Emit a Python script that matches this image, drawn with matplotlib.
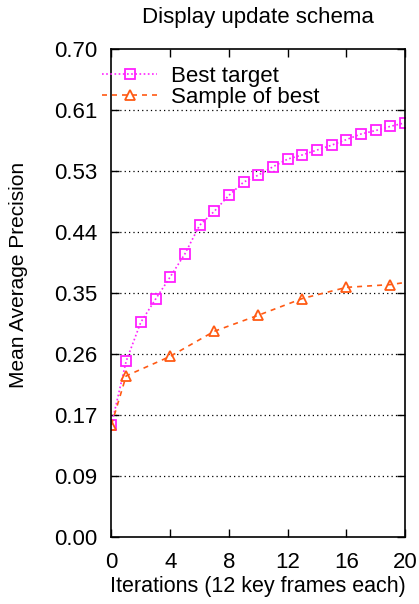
import numpy as np
import matplotlib
matplotlib.use("Agg")
import matplotlib.pyplot as plt

plt.rcParams['font.family'] = ['Liberation Sans', 'DejaVu Sans']

MAGENTA = '#ff20ff'
ORANGE = '#ff5a14'

# data
best_x = list(range(0, 21))
best_y = [0.161, 0.252, 0.308, 0.341, 0.373, 0.406, 0.447, 0.467, 0.490, 0.509,
          0.519, 0.531, 0.542, 0.548, 0.555, 0.562, 0.570, 0.578, 0.583, 0.589, 0.594]

sample_x = [0, 1, 4, 7, 10, 13, 16, 19, 20]
sample_y = [0.161, 0.231, 0.259, 0.295, 0.318, 0.342, 0.358, 0.362, 0.365]

x_ticks = [0, 4, 8, 12, 16, 20]
y_ticks = [0.0, 0.0875, 0.175, 0.2625, 0.35, 0.4375, 0.525, 0.6125, 0.70]
y_labels = ['0.00', '0.09', '0.17', '0.26', '0.35', '0.44', '0.53', '0.61', '0.70']

fig = plt.figure(figsize=(4.19, 6.04), dpi=100)
ax = fig.add_axes([0.266, 0.111, 0.701, 0.808])

ax.plot(best_x, best_y, color=MAGENTA, linestyle=(0, (1, 1.5)), linewidth=1.2,
        marker='s', markersize=7, markerfacecolor='none', markeredgewidth=1.3,
        label='Best target')
ax.plot(sample_x, sample_y, color=ORANGE, linestyle=(0, (3, 3)), linewidth=1.2,
        marker='^', markersize=7, markerfacecolor='none', markeredgewidth=1.3,
        markevery=list(range(len(sample_x) - 1)), label='Sample of best')

ax.set_xlim(0, 20)
ax.set_ylim(0, 0.70)
ax.set_xticks(x_ticks)
ax.set_yticks(y_ticks)
ax.set_yticklabels(y_labels)

for y in y_ticks[1:-1]:
    ax.axhline(y, color='black', linestyle=(0, (1, 2.5)), linewidth=0.9, zorder=0)

ax.tick_params(direction='in', top=True, right=True, length=6, width=1,
               labelsize=16)
ax.tick_params(axis='x', pad=11)
ax.tick_params(axis='y', pad=10)
for s in ax.spines.values():
    s.set_linewidth(1.2)

ax.set_title('Display update schema', fontsize=16, pad=19)
ax.set_xlabel('Iterations (12 key frames each)', fontsize=15.5, labelpad=2)
ax.set_ylabel('Mean Average Precision', fontsize=15)
ax.yaxis.set_label_coords(-0.283, 0.537)

ax.legend(loc='upper left', frameon=False, fontsize=16, handlelength=2.5,
          handletextpad=0.6, labelspacing=0.0, borderaxespad=0.2,
          bbox_to_anchor=(-0.078, 0.992))

fig.savefig('out.png', dpi=100)
